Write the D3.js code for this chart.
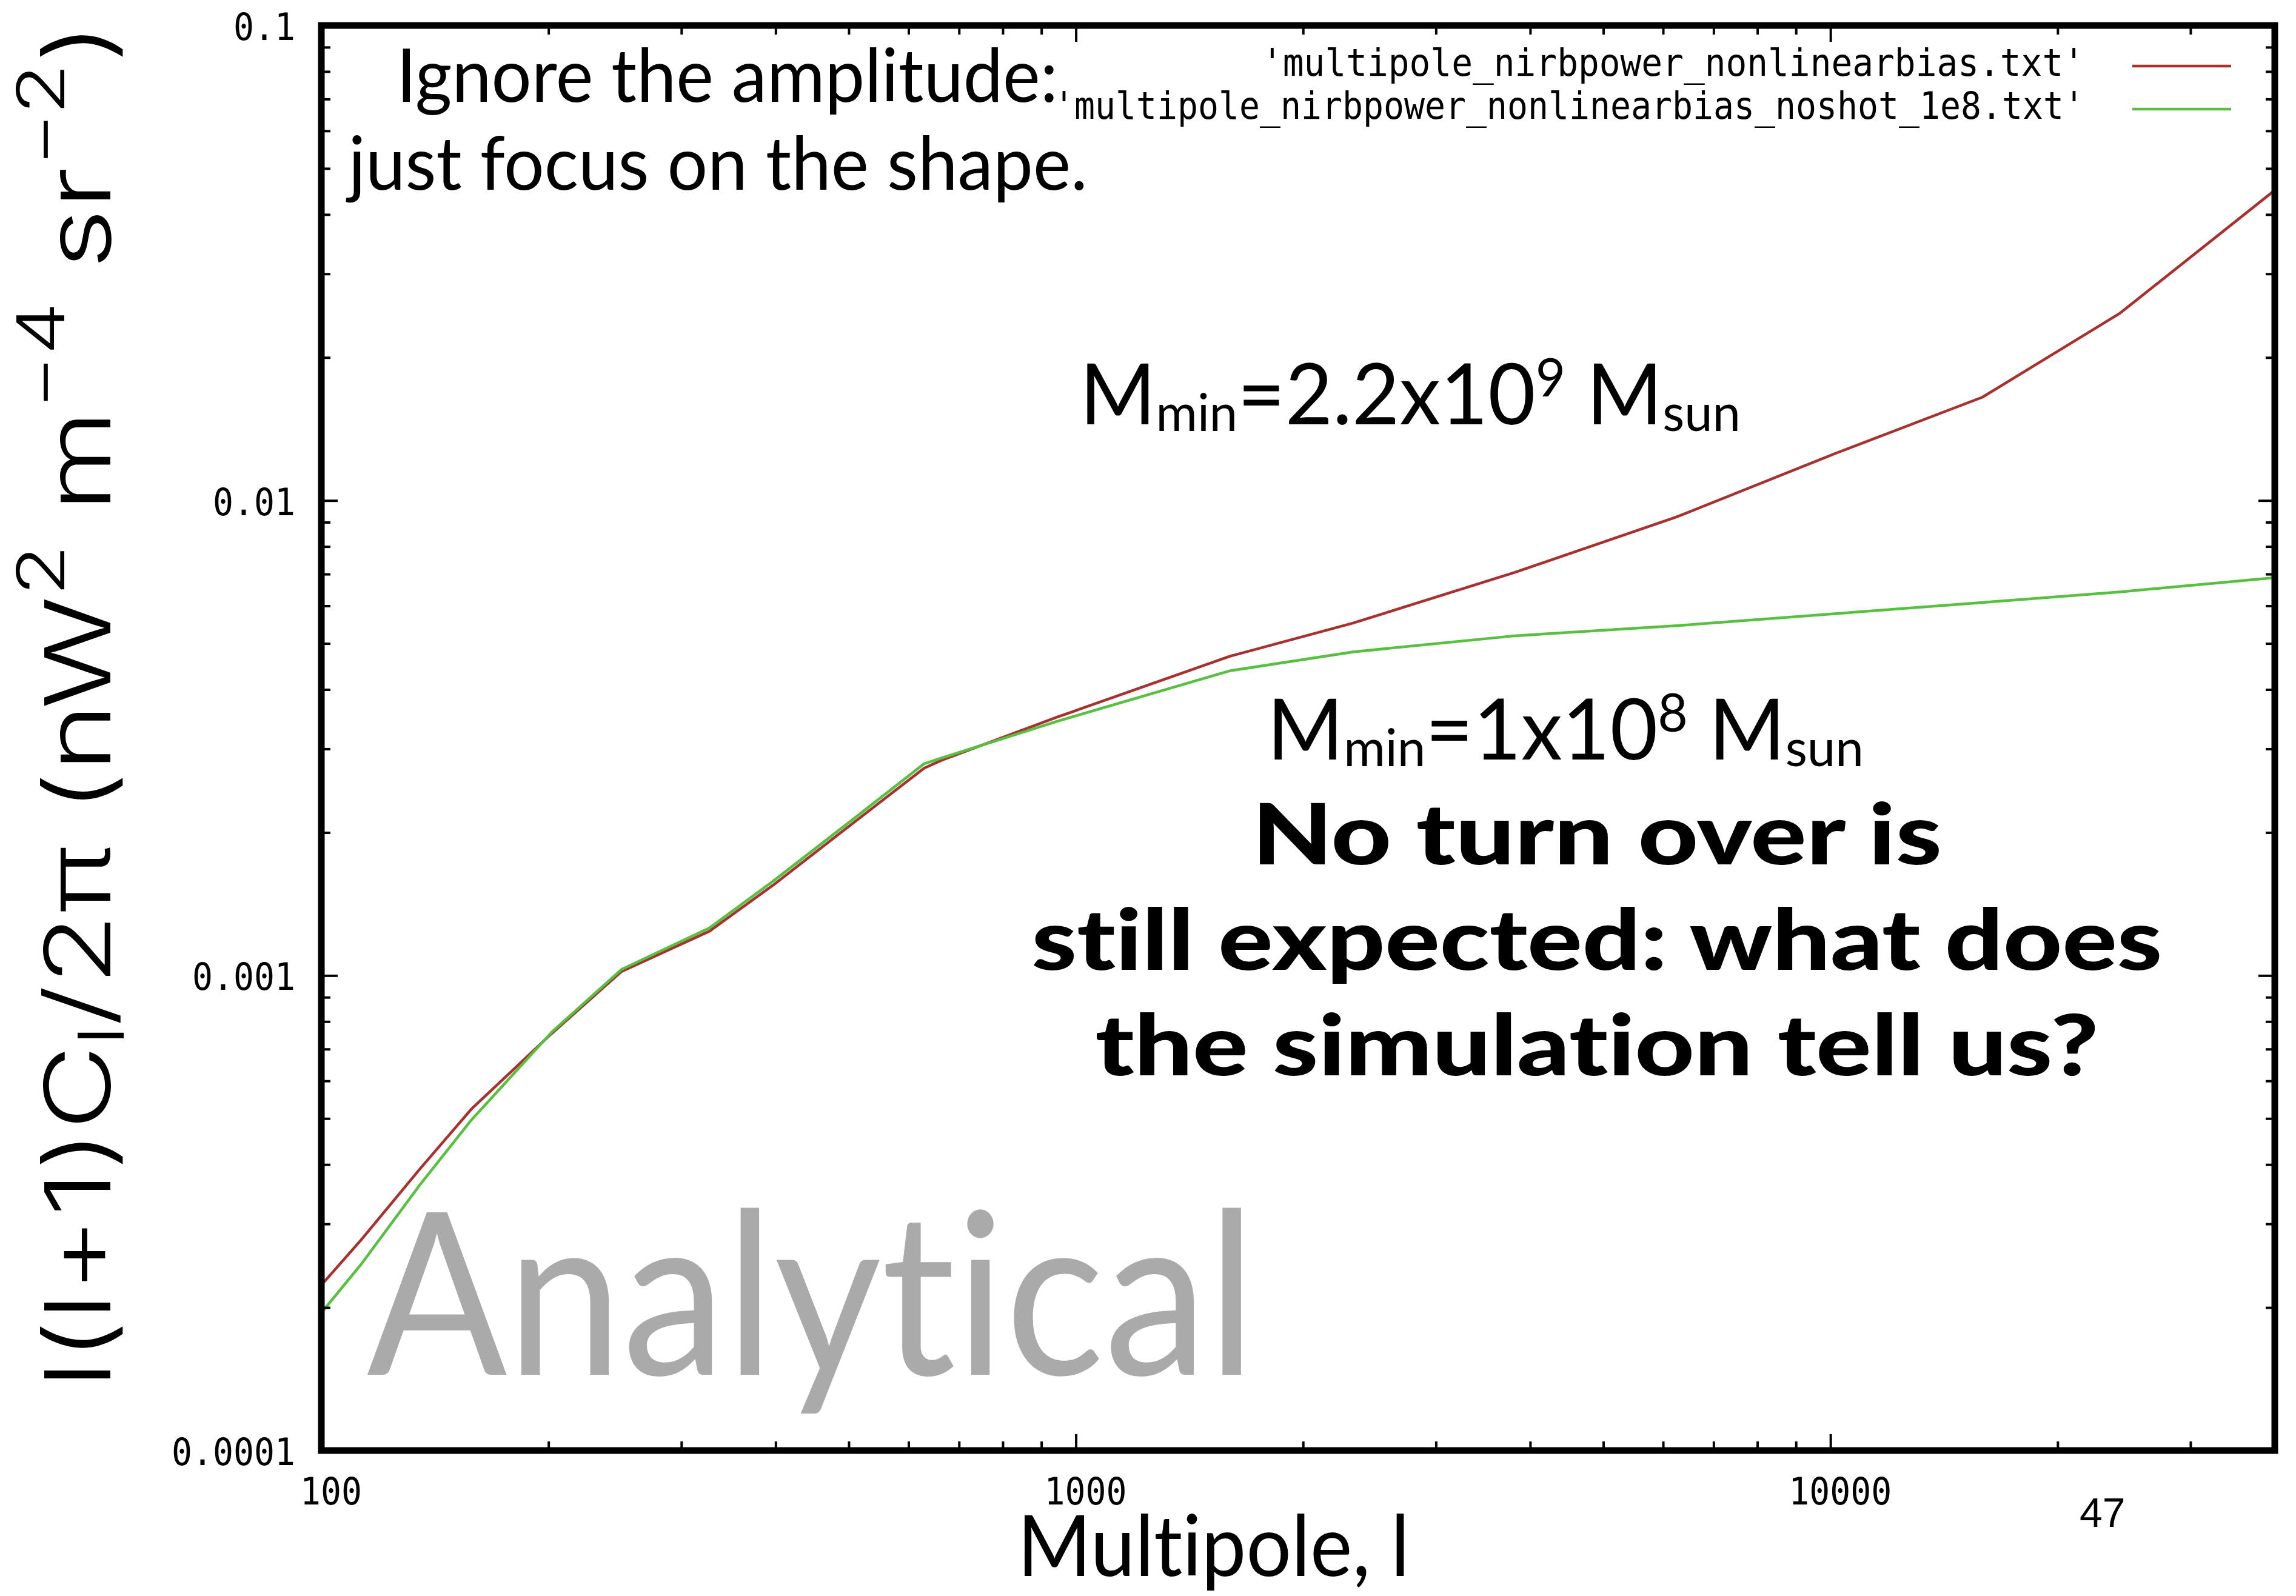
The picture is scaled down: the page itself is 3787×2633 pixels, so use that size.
<!DOCTYPE html>
<html>
<head>
<meta charset="utf-8">
<script src="https://cdn.jsdelivr.net/npm/d3@7"></script>
<style>
  html, body { margin: 0; padding: 0; background: #fff; }
  svg { display: block; }
  text { font-variant-ligatures: none; font-feature-settings: "liga" 0, "clig" 0; }
</style>
</head>
<body>
<svg id="chart" width="3787" height="2633"></svg>
<script>
// ---- data -------------------------------------------------------------
const multipoles = [100, 113, 135, 158, 202, 250, 327, 397, 508, 629, 664, 945,
                    1600, 2330, 3820, 6250, 10200, 15900, 24200, 38800];
// l(l+1)C_l/2pi, nonlinear bias (Mmin = 2.2e9 Msun)
const powerNonlinearBias = [2.23e-4, 2.78e-4, 3.91e-4, 5.23e-4, 7.55e-4, 1.02e-3, 1.24e-3,
                            1.55e-3, 2.10e-3, 2.73e-3, 2.84e-3, 3.50e-3, 4.70e-3, 5.52e-3,
                            7.06e-3, 9.23e-3, 1.26e-2, 1.65e-2, 2.48e-2, 4.50e-2];
// l(l+1)C_l/2pi, nonlinear bias without shot noise (Mmin = 1e8 Msun)
const powerNoShot1e8 = [1.95e-4, 2.47e-4, 3.62e-4, 4.96e-4, 7.60e-4, 1.03e-3, 1.26e-3,
                        1.58e-3, 2.14e-3, 2.79e-3, 2.87e-3, 3.43e-3, 4.38e-3, 4.80e-3,
                        5.19e-3, 5.45e-3, 5.78e-3, 6.10e-3, 6.42e-3, 6.88e-3];
const seriesNames = ["'multipole_nirbpower_nonlinearbias.txt'",
                     "'multipole_nirbpower_nonlinearbias_noshot_1e8.txt'"];
const seriesColors = ["#a8302e", "#58c040"];
const xDomain = [100, 38800];
const yDomain = [1e-4, 0.1];
const xTicks = [100, 1000, 10000];
const xTickLabels = ["100", "1000", "10000"];
const yTicks = [1e-4, 1e-3, 1e-2, 1e-1];
const yTickLabels = ["0.0001", "0.001", "0.01", "0.1"];

// ---- layout -----------------------------------------------------------
const W = 3787, H = 2633;
const plot = { left: 530, right: 3752, top: 42, bottom: 2393 };
const svg = d3.select('#chart');
svg.append('rect').attr('width', W).attr('height', H).attr('fill', '#fff');

const x = d3.scaleLog().domain(xDomain).range([plot.left, plot.right]);
const y = d3.scaleLog().domain(yDomain).range([plot.bottom, plot.top]);

function minorTicks(domain) {
  const out = [];
  const e0 = Math.floor(Math.log10(domain[0])), e1 = Math.ceil(Math.log10(domain[1]));
  for (let e = e0; e <= e1; e++) {
    for (let m = 2; m <= 9; m++) {
      const v = m * Math.pow(10, e);
      if (v > domain[0] && v < domain[1]) out.push(v);
    }
  }
  return out;
}

// ---- curves -----------------------------------------------------------
svg.append('clipPath').attr('id', 'plotClip').append('rect')
  .attr('x', plot.left).attr('y', plot.top)
  .attr('width', plot.right - plot.left).attr('height', plot.bottom - plot.top);

const line = d3.line().x(d => x(d[0])).y(d => y(d[1]));
[powerNonlinearBias, powerNoShot1e8].forEach((vals, i) => {
  svg.append('path')
    .attr('clip-path', 'url(#plotClip)')
    .attr('d', line(multipoles.map((l, k) => [l, vals[k]])))
    .attr('fill', 'none')
    .attr('stroke', seriesColors[i])
    .attr('stroke-width', 4.5)
    .attr('stroke-linejoin', 'round');
});

// ---- frame and ticks (mirrored on all four sides, pointing inward) -----
const tickW = 4, majorLen = 27, minorLen = 15;
function drawTicks(axisGen, transform, values, len) {
  const g = svg.append('g').attr('transform', transform)
    .call(axisGen.tickValues(values).tickSize(-len).tickFormat(''));
  g.select('.domain').remove();
  g.selectAll('line').attr('stroke', '#000').attr('stroke-width', tickW);
}
const xMinor = minorTicks(xDomain), yMinor = minorTicks(yDomain);
drawTicks(d3.axisBottom(x), `translate(0,${plot.bottom})`, xTicks, majorLen);
drawTicks(d3.axisBottom(x), `translate(0,${plot.bottom})`, xMinor, minorLen);
drawTicks(d3.axisTop(x), `translate(0,${plot.top})`, xTicks, majorLen);
drawTicks(d3.axisTop(x), `translate(0,${plot.top})`, xMinor, minorLen);
drawTicks(d3.axisLeft(y), `translate(${plot.left},0)`, yTicks, majorLen);
drawTicks(d3.axisLeft(y), `translate(${plot.left},0)`, yMinor, minorLen);
drawTicks(d3.axisRight(y), `translate(${plot.right},0)`, yTicks, majorLen);
drawTicks(d3.axisRight(y), `translate(${plot.right},0)`, yMinor, minorLen);

svg.append('rect')
  .attr('x', plot.left).attr('y', plot.top)
  .attr('width', plot.right - plot.left).attr('height', plot.bottom - plot.top)
  .attr('fill', 'none').attr('stroke', '#000').attr('stroke-width', 11);

// ---- tick labels ------------------------------------------------------
const monoFont = "'DejaVu Sans Mono', 'Liberation Mono', monospace";
const monoSize = 62, monoPitch = 34;
svg.append('g').selectAll('text').data(xTicks).join('text')
  .attr('x', d => x(d) + 16).attr('y', 2482)
  .attr('text-anchor', 'middle')
  .attr('font-family', monoFont).attr('font-size', monoSize)
  .attr('textLength', (d, i) => xTickLabels[i].length * monoPitch)
  .attr('lengthAdjust', 'spacingAndGlyphs')
  .text((d, i) => xTickLabels[i]);
svg.append('g').selectAll('text').data(yTicks).join('text')
  .attr('x', 487).attr('y', d => y(d) + 24)
  .attr('text-anchor', 'end')
  .attr('font-family', monoFont).attr('font-size', monoSize)
  .attr('textLength', (d, i) => yTickLabels[i].length * monoPitch)
  .attr('lengthAdjust', 'spacingAndGlyphs')
  .text((d, i) => yTickLabels[i]);

// ---- key --------------------------------------------------------------
const keyRows = [{ base: 125, mid: 109, len: 1357 }, { base: 196, mid: 180, len: 1700 }];
seriesNames.forEach((name, i) => {
  svg.append('text')
    .attr('x', 3438).attr('y', keyRows[i].base)
    .attr('text-anchor', 'end')
    .attr('font-family', monoFont).attr('font-size', monoSize)
    .attr('textLength', keyRows[i].len)
    .attr('lengthAdjust', 'spacingAndGlyphs')
    .text(name);
  svg.append('line')
    .attr('x1', 3517).attr('x2', 3680)
    .attr('y1', keyRows[i].mid).attr('y2', keyRows[i].mid)
    .attr('stroke', seriesColors[i]).attr('stroke-width', 4.5);
});

// ---- text helper: sets a string and stretches it to a given width -----
function fitText(o) {
  const g = svg.append('g');
  const t = g.append('text').attr('x', 0).attr('y', 0)
    .attr('font-family', o.font).attr('font-size', o.size)
    .attr('font-weight', o.weight || 'normal')
    .attr('fill', o.fill || '#000');
  o.parts.forEach(p => {
    t.append('tspan')
      .attr('font-size', p.size || o.size)
      .attr('dy', p.dy || 0)
      .text(p.text);
  });
  const bb = t.node().getBBox();
  const sx = o.width ? o.width / bb.width : 1;
  const w = bb.width * sx;
  const dx = o.anchor === 'middle' ? -w / 2 : o.anchor === 'end' ? -w : 0;
  g.attr('transform',
    `translate(${o.x},${o.y}) rotate(${o.rotate || 0}) translate(${dx},0) scale(${sx},1) translate(${-bb.x},0)`);
  return g;
}

const slideFont = "Lato, 'Open Sans', sans-serif";
const plotFont = "'Liberation Sans', Arial, sans-serif";
const titleFont = "Inter, 'Liberation Sans', Arial, sans-serif";

// axis titles
fitText({
  font: titleFont, size: 150, weight: 300, x: 182, y: 2290, rotate: -90, width: 2253,
  parts: [
    { text: 'l(l+1)C' },
    { text: 'l', size: 105, dy: 22 },
    { text: '/2\u03c0 (nW', dy: -22 },
    { text: '2', size: 108, dy: -76 },
    { text: ' m', dy: 76 },
    { text: '\u22124', size: 108, dy: -76 },
    { text: ' sr', dy: 76 },
    { text: '\u22122', size: 108, dy: -76 },
    { text: ')', dy: 76 }
  ]
});
fitText({ font: slideFont, size: 140, x: 1678, y: 2600, width: 647,
  parts: [{ text: 'Multipole, l' }] });

// slide annotations
fitText({ font: slideFont, size: 123, x: 654, y: 168, width: 1091,
  parts: [{ text: 'Ignore the amplitude:' }] });
fitText({ font: slideFont, size: 123, x: 570, y: 313, width: 1224,
  parts: [{ text: 'just focus on the shape.' }] });

fitText({ font: slideFont, size: 140, x: 1781, y: 700, width: 1090,
  parts: [
    { text: 'M' },
    { text: 'min', size: 86, dy: 11 },
    { text: '=2.2x10', dy: -11 },
    { text: '9', size: 88, dy: -46 },
    { text: ' M', dy: 46 },
    { text: 'sun', size: 86, dy: 11 }
  ] });
fitText({ font: slideFont, size: 140, x: 2090, y: 1253, width: 984,
  parts: [
    { text: 'M' },
    { text: 'min', size: 86, dy: 11 },
    { text: '=1x10', dy: -11 },
    { text: '8', size: 88, dy: -46 },
    { text: ' M', dy: 46 },
    { text: 'sun', size: 86, dy: 11 }
  ] });

const boldLines = [
  { text: 'No turn over is', y: 1426, w: 1138 },
  { text: 'still expected: what does', y: 1600, w: 1865 },
  { text: 'the simulation tell us?', y: 1774, w: 1655 }
];
boldLines.forEach(b => fitText({
  font: slideFont, size: 140, weight: 900, x: 2634, y: b.y, width: b.w,
  anchor: 'middle', parts: [{ text: b.text }]
}));

fitText({ font: slideFont, size: 374, fill: '#aaaaaa', x: 605, y: 2268, width: 1467,
  parts: [{ text: 'Analytical' }] });

// slide number
svg.append('text').attr('x', 3430).attr('y', 2519)
  .attr('font-family', plotFont).attr('font-size', 68).text('47');
</script>
</body>
</html>
